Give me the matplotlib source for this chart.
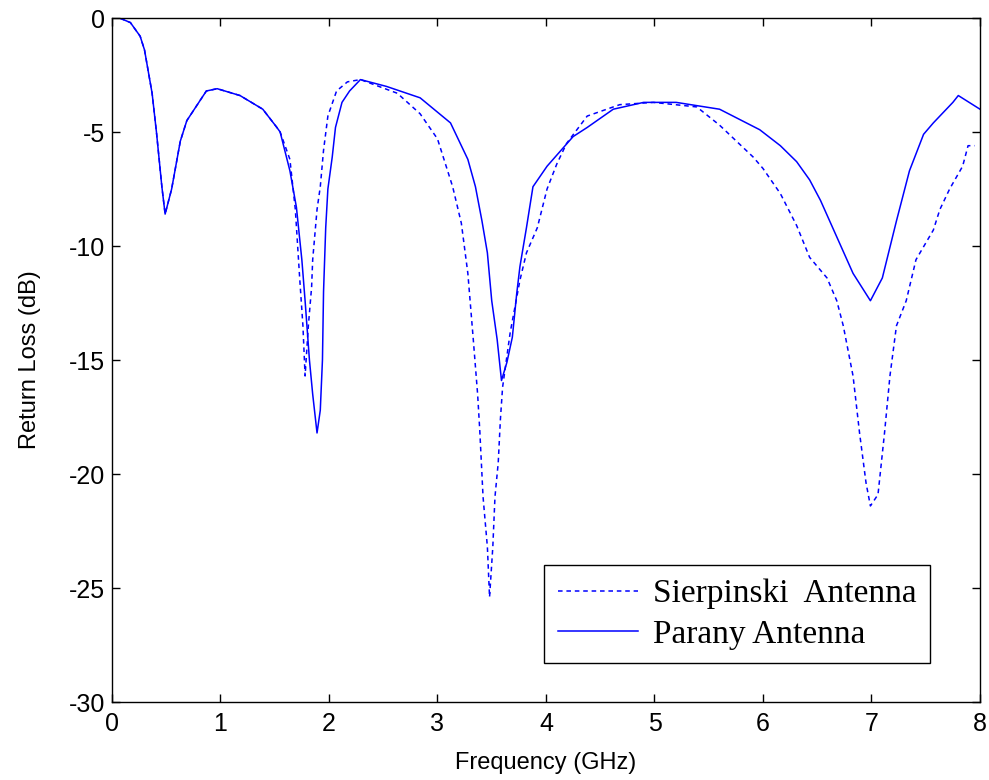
import matplotlib
matplotlib.use("Agg")
import matplotlib.pyplot as plt

# Measured return loss (dB) versus frequency (GHz)
freq_parany = [0.0, 0.07, 0.17, 0.26, 0.30, 0.37, 0.41, 0.46, 0.49, 0.55, 0.63, 0.69,
               0.87, 0.97, 1.18, 1.39, 1.52, 1.55, 1.64, 1.70, 1.75, 1.78, 1.82,
               1.85, 1.89, 1.92, 1.94, 1.95, 1.97, 1.99, 2.03, 2.06, 2.12, 2.19,
               2.29, 2.53, 2.84, 3.12, 3.28, 3.35, 3.41, 3.46, 3.50, 3.55, 3.59,
               3.64, 3.69, 3.73, 3.76, 3.82, 3.88, 4.01, 4.25, 4.38, 4.62, 4.90,
               5.20, 5.60, 5.97, 6.16, 6.31, 6.43, 6.53, 6.68, 6.83, 6.99, 7.10,
               7.23, 7.35, 7.48, 7.57, 7.75, 7.80, 8.0]
rl_parany = [0.0, 0.0, -0.2, -0.8, -1.4, -3.3, -5.0, -7.4, -8.6, -7.5, -5.4, -4.5,
             -3.2, -3.1, -3.4, -4.0, -4.8, -5.0, -6.7, -8.3, -10.6, -12.4, -15.0,
             -16.5, -18.2, -17.2, -15.0, -12.0, -9.2, -7.5, -6.1, -4.8, -3.7, -3.2,
             -2.7, -3.0, -3.5, -4.6, -6.2, -7.4, -8.9, -10.3, -12.4, -14.1, -15.9,
             -15.1, -14.0, -12.1, -10.9, -9.2, -7.4, -6.5, -5.2, -4.8, -4.0, -3.7,
             -3.7, -4.0, -4.9, -5.6, -6.3, -7.1, -8.0, -9.6, -11.2, -12.4, -11.4,
             -8.9, -6.7, -5.1, -4.6, -3.7, -3.4, -4.0]

freq_sierp = [0.0, 0.07, 0.17, 0.26, 0.30, 0.37, 0.41, 0.46, 0.49, 0.55, 0.63, 0.69,
              0.87, 0.97, 1.18, 1.39, 1.52, 1.55, 1.64, 1.69, 1.73, 1.76, 1.78,
              1.81, 1.84, 1.85, 1.89, 1.92, 1.95, 1.99, 2.07, 2.17, 2.29, 2.63,
              2.84, 3.00, 3.14, 3.22, 3.28, 3.33, 3.37, 3.39, 3.42, 3.46, 3.48,
              3.51, 3.53, 3.56, 3.58, 3.60, 3.67, 3.76, 3.82, 3.92, 4.01, 4.10,
              4.19, 4.38, 4.50, 4.68, 4.99, 5.39, 5.60, 5.91, 6.00, 6.16, 6.31,
              6.43, 6.59, 6.68, 6.74, 6.83, 6.89, 6.95, 6.99, 7.06, 7.12, 7.17,
              7.23, 7.32, 7.41, 7.57, 7.63, 7.72, 7.84, 7.89, 7.95]
rl_sierp = [0.0, 0.0, -0.2, -0.8, -1.4, -3.3, -5.0, -7.4, -8.6, -7.5, -5.4, -4.5,
            -3.2, -3.1, -3.4, -4.0, -4.8, -5.0, -6.2, -8.4, -11.4, -13.5, -15.7,
            -13.5, -11.8, -10.6, -8.4, -7.4, -5.8, -4.3, -3.2, -2.8, -2.7, -3.3,
            -4.2, -5.3, -7.4, -9.0, -11.2, -14.1, -16.5, -18.1, -21.0, -23.2, -25.4,
            -23.2, -21.0, -19.5, -17.6, -16.2, -13.8, -11.5, -10.3, -9.2, -7.5, -6.4,
            -5.5, -4.3, -4.1, -3.8, -3.7, -3.9, -4.7, -6.1, -6.6, -7.7, -9.1,
            -10.5, -11.4, -12.4, -13.5, -15.7, -18.2, -20.4, -21.4, -20.9, -18.2, -15.7,
            -13.5, -12.4, -10.6, -9.3, -8.4, -7.5, -6.5, -5.6, -5.6]

x_ticks = [0, 1, 2, 3, 4, 5, 6, 7, 8]
y_ticks = [0, -5, -10, -15, -20, -25, -30]

plt.rcParams['font.family'] = ['Liberation Sans', 'DejaVu Sans']

fig = plt.figure(figsize=(9.89, 7.80), dpi=100)
ax = fig.add_axes([0.1132, 0.1, 0.8777, 0.8769])

ax.plot(freq_sierp, rl_sierp, color='#0000ff', lw=1.1, linestyle=(0, (3, 2.5)),
        label='Sierpinski  Antenna')
ax.plot(freq_parany, rl_parany, color='#0000ff', lw=1.1, label='Parany Antenna')

ax.set_xlim(0, 8)
ax.set_ylim(-30, 0)
ax.set_xticks(x_ticks)
ax.set_yticks(y_ticks)
ax.set_xticklabels([str(t) for t in x_ticks])
ax.set_yticklabels([str(t) for t in y_ticks])
ax.tick_params(direction='in', top=True, right=True, length=6, width=1,
               labelsize=18)
ax.tick_params(axis='x', pad=7)
ax.tick_params(axis='y', pad=5)
for s in ax.spines.values():
    s.set_linewidth(1.0)

ax.set_xlabel('Frequency (GHz)', fontsize=17, labelpad=12)
ax.set_ylabel('Return Loss (dB)', fontsize=17, labelpad=20)

leg = ax.legend(loc='lower right', bbox_to_anchor=(0.942, 0.057),
                prop={'family': ['Liberation Serif', 'DejaVu Serif'], 'size': 24},
                frameon=True, fancybox=False, edgecolor='black', framealpha=1,
                handlelength=2.4, borderpad=0.4, labelspacing=0.3,
                handletextpad=0.45, borderaxespad=0.0)
leg.get_frame().set_linewidth(1.0)

fig.savefig('out.png', dpi=100, facecolor='white')
